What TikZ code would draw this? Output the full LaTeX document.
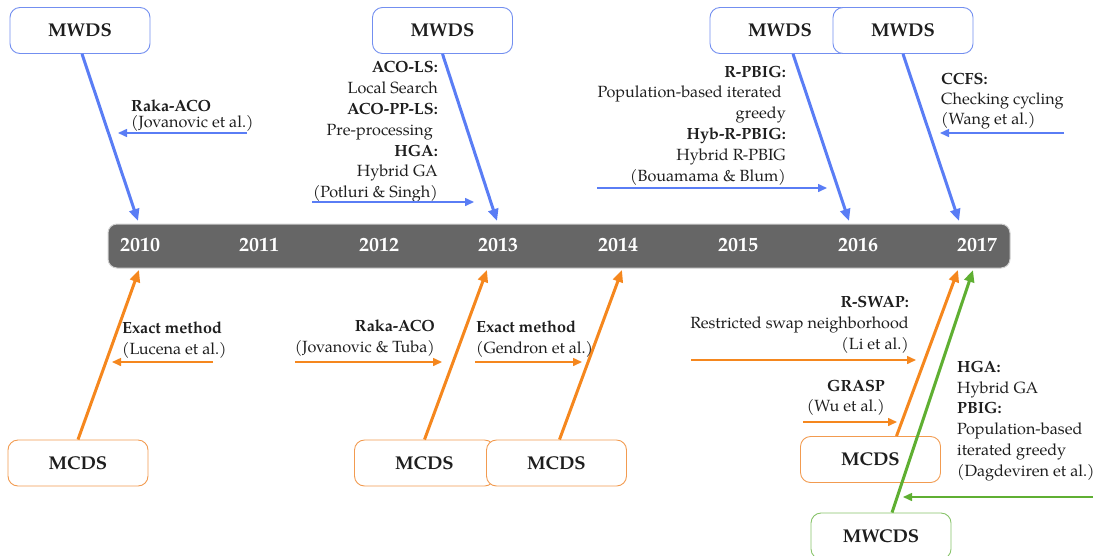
\documentclass[tikz,border=0pt]{standalone}
\usepackage{fontspec}
\setmainfont{TeX Gyre Pagella}
\usetikzlibrary{arrows.meta}
\definecolor{mwdsarrow}{RGB}{90,125,245}
\definecolor{mwdsline}{RGB}{115,143,240}
\definecolor{mcdsarrow}{RGB}{245,135,30}
\definecolor{mcdsline}{RGB}{242,155,80}
\definecolor{mwcdsarrow}{RGB}{95,175,50}
\definecolor{mwcdsline}{RGB}{135,195,105}
\definecolor{bargray}{RGB}{102,102,102}
\definecolor{ink}{RGB}{30,30,30}
\begin{document}
\begin{tikzpicture}[x=1pt,y=-1pt,
  box/.style={draw, rounded corners=10pt, fill=white, line width=0.9pt,
    minimum width=140pt, minimum height=46pt, inner sep=0pt,
    font=\fontsize{18.5}{22}\selectfont\bfseries, text=ink},
  mwds/.style={box, draw=mwdsline},
  mcds/.style={box, draw=mcdsline},
  mwcds/.style={box, draw=mwcdsline},
  major/.style={line width=3pt, -{Triangle[length=12pt,width=10pt]}},
  minor/.style={line width=1.5pt, -{Triangle[length=9pt,width=8pt]}},
  note/.style={font=\fontsize{16.2}{20.8}\selectfont, text=ink, inner sep=0pt},
  year/.style={font=\fontsize{20}{22}\selectfont\bfseries, text=white, inner sep=0pt}
]
\useasboundingbox (0,0) rectangle (1094,555);

% timeline bar and years
\node[draw=black!18, fill=bargray, rounded corners=9pt, line width=1pt,
  minimum width=902pt, minimum height=44pt, inner sep=0pt] (bar) at (559,246) {};
\node[year] (y2010) at (140,245) {2010};
\node[year] (y2011) at (259,245) {2011};
\node[year] (y2012) at (379,245) {2012};
\node[year] (y2013) at (498,245) {2013};
\node[year] (y2014) at (618,245) {2014};
\node[year] (y2015) at (738,245) {2015};
\node[year] (y2016) at (858,245) {2016};
\node[year] (y2017) at (977,245) {2017};

% points where the main arrows meet the bar
\coordinate (t2010) at (138,221);
\coordinate (t2013) at (497,221);
\coordinate (t2016) at (849,221);
\coordinate (t2017) at (959,221);
\coordinate (b2010) at (139,270);
\coordinate (b2013) at (487,270);
\coordinate (b2014) at (622,270);
\coordinate (b2017a) at (958,270);
\coordinate (b2017b) at (973,270);

% MWDS problem boxes (top)
\node[mwds] (mw1) at (80,30.5) {MWDS};
\node[mwds] (mw2) at (442.5,30.5) {MWDS};
\node[mwds] (mw3) at (780,30.5) {MWDS};
\node[mwds] (mw4) at (903,30.5) {MWDS};

% MCDS / MWCDS problem boxes (bottom)
\node[mcds] (mc1) at (78,463) {MCDS};
\node[mcds] (mc2) at (424.5,463) {MCDS};
\node[mcds] (mc3) at (556.5,463) {MCDS};
\node[mcds] (mc4) at (870.5,459.5) {MCDS};
\node[mwcds] (mwc) at (881,536) {MWCDS};

% main arrows
\draw[major, mwdsarrow] ([xshift=2pt]mw1.south) -- (t2010);
\draw[major, mwdsarrow] (mw2.south) -- (t2013);
\draw[major, mwdsarrow] ([xshift=13pt]mw3.south) -- (t2016);
\draw[major, mwdsarrow] (mw4.south) -- (t2017);
\draw[major, mcdsarrow] (mc1.north) -- (b2010);
\draw[major, mcdsarrow] (mc2.north) -- (b2013);
\draw[major, mcdsarrow] ([xshift=3pt]mc3.north) -- (b2014);
\draw[major, mcdsarrow] ([xshift=26pt]mc4.north) -- (b2017a);
\draw[major, mwcdsarrow] ([xshift=11pt]mwc.north) -- (b2017b);

% MWDS methods
\node[note, anchor=west, align=left, font=\fontsize{16.2}{16.5}\selectfont]
  (n1) at (131,115.5) {\textbf{Raka-ACO}\\(Jovanovic et al.)};
\node[note, anchor=east, align=right] (n2) at (438,132)
  {\textbf{ACO-LS:}\\Local Search\\\textbf{ACO-PP-LS:}\\Pre-processing\kern5pt\\\textbf{HGA:}\\Hybrid GA\\(Potluri \& Singh)};
\node[note, anchor=east, align=right] (n3) at (786,125.5)
  {\textbf{R-PBIG:}\\Population-based iterated\kern4pt\\greedy\\\textbf{Hyb-R-PBIG:}\\Hybrid R-PBIG\\(Bouamama \& Blum)};
\node[note, anchor=west, align=left, font=\fontsize{16.2}{20}\selectfont] (n4) at (941,101)
  {\textbf{CCFS:}\\Checking cycling\\(Wang et al.)};

\coordinate (a1s) at (247,133);  \coordinate (a1e) at (118,133);
\coordinate (a2s) at (312,202);  \coordinate (a2e) at (474,202);
\coordinate (a3s) at (597,188);  \coordinate (a3e) at (827,188);
\coordinate (a4s) at (1064,133); \coordinate (a4e) at (940,133);
\draw[minor, mwdsarrow] (a1s) -- (a1e);
\draw[minor, mwdsarrow] (a2s) -- (a2e);
\draw[minor, mwdsarrow] (a3s) -- (a3e);
\draw[minor, mwdsarrow] (a4s) -- (a4e);

% MCDS / MWCDS methods
\node[note, anchor=west, align=left] (m1) at (122,340)
  {\textbf{Exact method}\\(Lucena et al.)};
\node[note, anchor=east, align=right] (m2) at (435,338)
  {\textbf{Raka-ACO}\\(Jovanovic \& Tuba)};
\node[note, anchor=west, align=left] (m3) at (476,339)
  {\textbf{Exact method}\\(Gendron et al.)};
\node[note, anchor=east, align=right] (m4) at (909,325)
  {\textbf{R-SWAP:}\\Restricted swap neighborhood\\(Li et al.)};
\node[note, anchor=east, align=right, font=\fontsize{16.2}{20}\selectfont] (m5) at (885,398)
  {\textbf{GRASP}\\(Wu et al.)};
\node[note, anchor=west, align=left] (m6) at (957,421)
  {\textbf{HGA:}\\Hybrid GA\\\textbf{PBIG:}\\Population-based\\iterated greedy\\(Dagdeviren et al.)};

\coordinate (c1s) at (213,362);  \coordinate (c1e) at (112,362);
\coordinate (c2s) at (295,362);  \coordinate (c2e) at (442,362);
\coordinate (c3s) at (475,362);  \coordinate (c3e) at (582,362);
\coordinate (c4s) at (691,360);  \coordinate (c4e) at (916,360);
\coordinate (c5s) at (803,422);  \coordinate (c5e) at (897,422);
\coordinate (c6s) at (1093,497); \coordinate (c6e) at (903,497);
\draw[minor, mcdsarrow] (c1s) -- (c1e);
\draw[minor, mcdsarrow] (c2s) -- (c2e);
\draw[minor, mcdsarrow] (c3s) -- (c3e);
\draw[minor, mcdsarrow] (c4s) -- (c4e);
\draw[minor, mcdsarrow] (c5s) -- (c5e);
\draw[minor, mwcdsarrow] (c6s) -- (c6e);
\end{tikzpicture}
\end{document}
